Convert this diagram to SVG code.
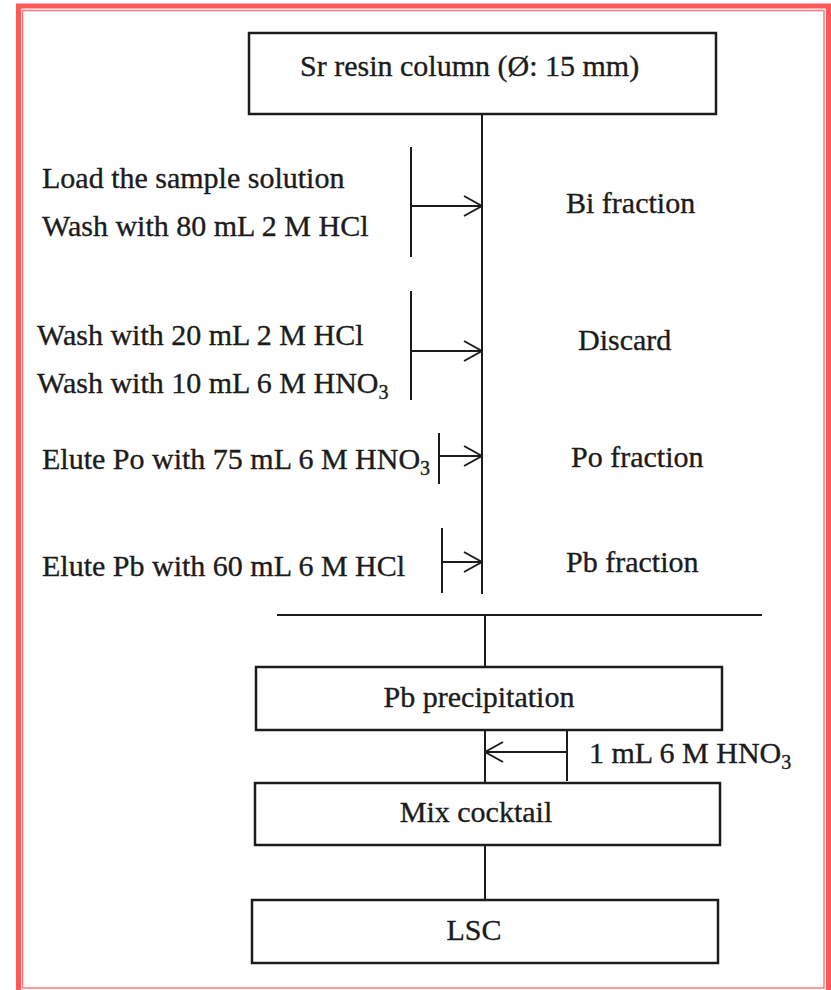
<svg xmlns="http://www.w3.org/2000/svg" width="831" height="990" viewBox="0 0 831 990">
<style>
text{font-family:"Liberation Serif","Times New Roman",serif;font-size:30px;fill:#1c1c1c;stroke:#1c1c1c;stroke-width:0.35}
.box{fill:#fff;stroke:#1c1c1c;stroke-width:2.5}
.ln{fill:none;stroke:#1c1c1c;stroke-width:2}
.ar{fill:none;stroke:#1c1c1c;stroke-width:2;marker-end:url(#ah)}
.c{text-anchor:middle}
.sub{font-size:20px}
</style>
<defs>
<marker id="ah" viewBox="0 0 20 22" refX="19" refY="11" markerWidth="20" markerHeight="22" markerUnits="userSpaceOnUse" orient="auto">
<path d="M1,1 L19,11 L1,21" fill="none" stroke="#1c1c1c" stroke-width="2"/>
</marker>
</defs>
<rect width="831" height="990" fill="#fff"/>
<g id="frame">
<rect x="18.5" y="6" width="810" height="1000" fill="none" stroke="#ff5858" stroke-width="5"/>
<rect x="22.5" y="10.5" width="801.5" height="977.5" fill="none" stroke="#ff7a7a" stroke-width="1.5"/>
</g>
<g id="connectors">
<line class="ln" x1="482" y1="114" x2="482" y2="594"/>
<line class="ln" x1="411" y1="147" x2="411" y2="257"/>
<line class="ar" x1="411" y1="206" x2="482" y2="206"/>
<line class="ln" x1="411" y1="291" x2="411" y2="400"/>
<line class="ar" x1="411" y1="351" x2="482" y2="351"/>
<line class="ln" x1="439" y1="433" x2="439" y2="484"/>
<line class="ar" x1="439" y1="456" x2="482" y2="456"/>
<line class="ln" x1="442" y1="528" x2="442" y2="593"/>
<line class="ar" x1="442" y1="562" x2="482" y2="562"/>
<line class="ln" x1="277" y1="615" x2="762" y2="615"/>
<line class="ln" x1="485" y1="615" x2="485" y2="667"/>
<line class="ln" x1="485" y1="730" x2="485" y2="783"/>
<line class="ln" x1="567" y1="730" x2="567" y2="781"/>
<line class="ar" x1="567" y1="752" x2="485" y2="752"/>
<line class="ln" x1="485" y1="845" x2="485" y2="900"/>
</g>
<g id="column">
<rect class="box" x="249" y="33" width="467" height="81"/>
<text x="300" y="76">Sr resin column (Ø: 15 mm)</text>
</g>
<g id="step1">
<text x="42" y="188">Load the sample solution</text>
<text x="42" y="236">Wash with 80 mL 2 M HCl</text>
</g>
<g id="bi"><text x="566" y="213">Bi fraction</text></g>
<g id="step2">
<text x="37" y="345">Wash with 20 mL 2 M HCl</text>
<text x="37" y="393">Wash with 10 mL 6 M HNO<tspan class="sub" dy="6">3</tspan></text>
</g>
<g id="discard"><text x="578" y="350">Discard</text></g>
<g id="step3"><text x="42" y="469">Elute Po with 75 mL 6 M HNO<tspan class="sub" dy="6">3</tspan></text></g>
<g id="po"><text x="571" y="467">Po fraction</text></g>
<g id="step4"><text x="42" y="576">Elute Pb with 60 mL 6 M HCl</text></g>
<g id="pb"><text x="566" y="572">Pb fraction</text></g>
<g id="precip">
<rect class="box" x="256" y="667" width="466" height="63"/>
<text class="c" x="479" y="707">Pb precipitation</text>
</g>
<g id="acid"><text x="589" y="763">1 mL 6 M HNO<tspan class="sub" dy="6">3</tspan></text></g>
<g id="mix">
<rect class="box" x="255" y="783" width="465" height="62"/>
<text class="c" x="476" y="822">Mix cocktail</text>
</g>
<g id="lsc">
<rect class="box" x="252" y="900" width="466" height="63"/>
<text class="c" x="474" y="940">LSC</text>
</g>
</svg>
